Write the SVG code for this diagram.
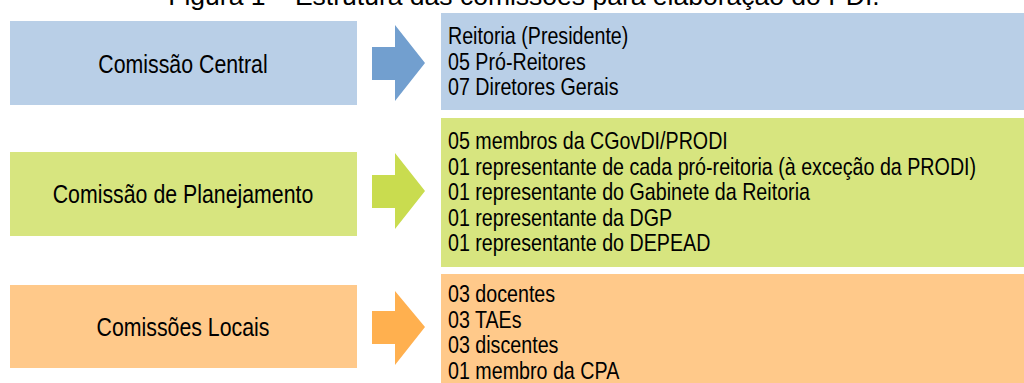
<svg xmlns="http://www.w3.org/2000/svg" width="1024" height="383" viewBox="0 0 1024 383">
<style>
.t{font-family:"Liberation Sans Narrow","Liberation Sans",Arial,sans-serif;fill:#000}
.lt{font-size:26px;text-anchor:middle}
.rt{font-size:24px}
.title{font-family:"Liberation Sans",Arial,sans-serif;font-size:26.5px;text-anchor:middle;fill:#000}
.blue{fill:#b9cfe7}
.green{fill:#d7e57f}
.orange{fill:#ffc98a}
</style>
<rect width="1024" height="383" fill="#fff"/>
<text class="title" x="524" y="5">Figura 1 – Estrutura das comissões para elaboração do PDI.</text>
<g id="central">
<rect class="blue" x="10" y="21" width="347" height="84"/>
<text class="t lt" transform="scale(0.82 1)" x="223.2" y="73">Comissão Central</text>
</g>
<g id="central-members">
<rect class="blue" x="441" y="13" width="583" height="97"/>
<g class="t rt" transform="scale(0.82 1)">
<text x="546.3" y="44">Reitoria (Presidente)</text>
<text x="546.3" y="70">05 Pró-Reitores</text>
<text x="546.3" y="95">07 Diretores Gerais</text>
</g>
</g>
<g id="planejamento">
<rect class="green" x="10" y="152" width="347" height="84"/>
<text class="t lt" transform="scale(0.82 1)" x="223.2" y="203">Comissão de Planejamento</text>
</g>
<g id="planejamento-members">
<rect class="green" x="441" y="118" width="583" height="149"/>
<g class="t rt" transform="scale(0.82 1)">
<text x="546.3" y="149">05 membros da CGovDI/PRODI</text>
<text x="546.3" y="175">01 representante de cada pró-reitoria (à exceção da PRODI)</text>
<text x="546.3" y="200">01 representante do Gabinete da Reitoria</text>
<text x="546.3" y="226">01 representante da DGP</text>
<text x="546.3" y="251">01 representante do DEPEAD</text>
</g>
</g>
<g id="locais">
<rect class="orange" x="10" y="285" width="347" height="83"/>
<text class="t lt" transform="scale(0.82 1)" x="223.2" y="336">Comissões Locais</text>
</g>
<g id="locais-members">
<rect class="orange" x="441" y="274" width="583" height="109"/>
<g class="t rt" transform="scale(0.82 1)">
<text x="546.3" y="302">03 docentes</text>
<text x="546.3" y="328">03 TAEs</text>
<text x="546.3" y="353">03 discentes</text>
<text x="546.3" y="379">01 membro da CPA</text>
</g>
</g>
<g id="connectors">
<polygon fill="#729fcf" points="372,47 395,47 395,25 425,63 395,101 395,80 372,80"/>
<polygon fill="#c9dc4f" points="372,175 395,175 395,153 425,191 395,229 395,208 372,208"/>
<polygon fill="#ffb04f" points="372,311 395,311 395,291 425,327 395,365 395,344 372,344"/>
</g>
</svg>
